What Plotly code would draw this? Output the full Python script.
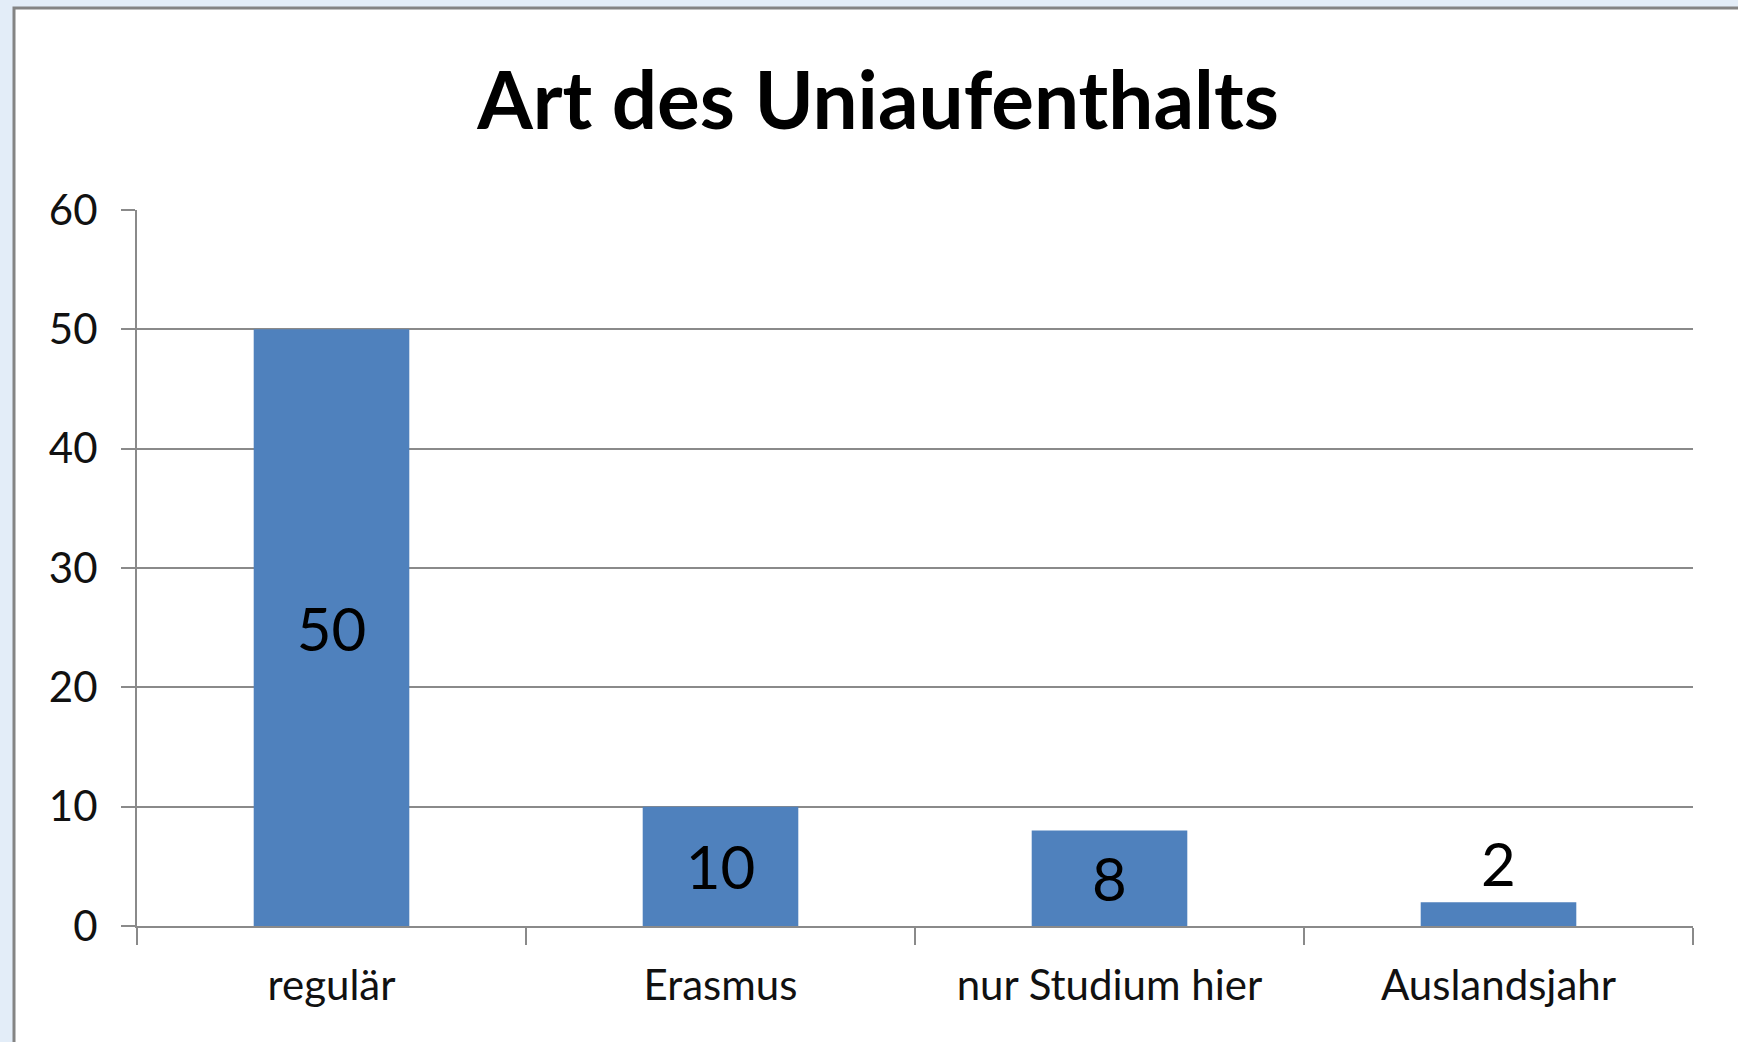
import plotly.graph_objects as go

# Data
categories = ["regulär", "Erasmus", "nur Studium hier", "Auslandsjahr"]
counts = [50, 10, 8, 2]
label_positions = ["inside", "inside", "inside", "outside"]
y_ticks = [0, 10, 20, 30, 40, 50, 60]

W, H = 1738, 1042
L, R, T, B = 137, 45, 210, 116
pw, ph = W - L - R, H - T - B

FONT = "Lato"
GRID = "#8a8a8a"

fig = go.Figure(
    go.Bar(
        x=categories,
        y=counts,
        text=[str(v) for v in counts],
        textposition=label_positions,
        insidetextanchor="middle",
        constraintext="none",
        textfont=dict(family=FONT, size=60, color="#000000"),
        marker=dict(color="#4f81bd", line=dict(width=0)),
        width=0.4,
        cliponaxis=False,
        hoverinfo="skip",
    )
)

# white chart frame with grey border, sitting on a light blue page
def px_x(p):
    return (p - L) / pw

def px_y(p):
    return (H - B - p) / ph

fig.add_shape(
    type="rect", xref="paper", yref="paper", layer="below",
    x0=px_x(14), x1=px_x(W + 20), y0=px_y(8), y1=px_y(H + 20),
    fillcolor="#ffffff", line=dict(color="#848484", width=3),
)

fig.update_layout(
    width=W, height=H,
    margin=dict(l=L, r=R, t=T, b=B),
    paper_bgcolor="#e3edf8",
    plot_bgcolor="rgba(0,0,0,0)",
    showlegend=False,
    title=dict(
        text="<b>Art des Uniaufenthalts</b>",
        font=dict(family=FONT, size=80, color="#000000"),
        xref="container", yref="container",
        x=878 / W, xanchor="center",
        y=1 - 101 / H, yanchor="middle",
    ),
    font=dict(family=FONT, color="#000000"),
)

fig.update_xaxes(
    range=[-0.5, 3.5],
    tickson="boundaries",
    ticks="outside", ticklen=17, tickwidth=2, tickcolor=GRID,
    showline=True, linecolor=GRID, linewidth=2,
    showgrid=False,
    tickfont=dict(family=FONT, size=42, color="#111111"),
    ticklabelstandoff=22,
)

fig.update_yaxes(
    range=[0, 60],
    tickvals=y_ticks,
    ticks="outside", ticklen=14, tickwidth=2, tickcolor=GRID,
    showline=True, linecolor=GRID, linewidth=2,
    showgrid=True, gridcolor=GRID, gridwidth=2,
    zeroline=False,
    tickfont=dict(family=FONT, size=42, color="#111111"),
    ticklabelstandoff=15,
)

fig.write_html("out.html")
